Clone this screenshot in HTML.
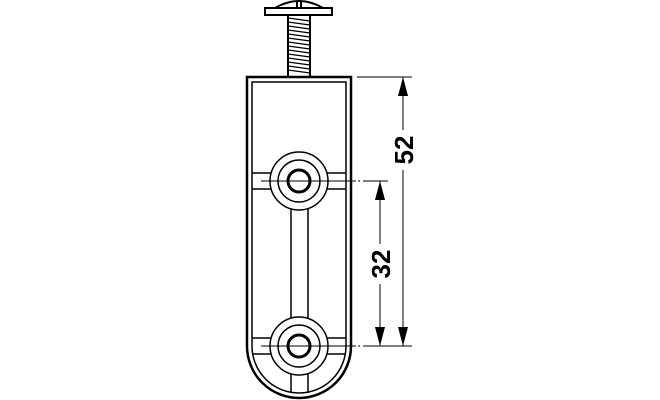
<!DOCTYPE html>
<html><head><meta charset="utf-8"><style>
html,body{margin:0;padding:0;background:#fff}
svg{display:block}
text{font-family:"Liberation Sans",sans-serif;font-weight:bold;font-size:26px}
</style></head><body>
<svg width="660" height="400" viewBox="0 0 660 400" xmlns="http://www.w3.org/2000/svg">
<g fill="none" stroke="#000" stroke-width="2">
<!-- screw -->
<path d="M275 8 Q299 -6 323 8" />
<line x1="297" y1="1" x2="297" y2="8"/><line x1="301" y1="1" x2="301" y2="8"/>
<rect x="265" y="8" width="67" height="7" fill="#fff"/>
<line x1="288" y1="15" x2="288" y2="77"/><line x1="310" y1="15" x2="310" y2="77"/>
<g stroke-width="1.3">
<path d="M288 18 L310 21 M288 22 L310 25 M288 26 L310 29 M288 30 L310 33 M288 34 L310 37 M288 38 L310 41 M288 42 L310 45 M288 46 L310 49 M288 50 L310 53 M288 54 L310 57 M288 58 L310 61 M288 62 L310 65 M288 66 L310 69 M288 70 L310 73"/>
</g>
<!-- body outer -->
<path d="M247 346 L247 77 L351 77 L351 346 A52 52 0 0 1 247 346" stroke-width="2.5"/>
<path d="M252 346 L252 82 L346 82 L346 346 A47 47 0 0 1 252 346" stroke-width="1.5"/>
<!-- central bar -->
<line x1="291" y1="205" x2="291" y2="323" stroke-width="1.5"/>
<line x1="308" y1="205" x2="308" y2="323" stroke-width="1.5"/>
<line x1="291" y1="370" x2="291" y2="393" stroke-width="1.5"/>
<line x1="308" y1="370" x2="308" y2="393" stroke-width="1.5"/>
<!-- bands -->
<g stroke-width="1.5">
<line x1="252" y1="173" x2="271" y2="173"/><line x1="252" y1="189" x2="271" y2="189"/>
<line x1="327" y1="173" x2="346" y2="173"/><line x1="327" y1="189" x2="346" y2="189"/>
<line x1="252" y1="338" x2="271" y2="338"/><line x1="252" y1="354" x2="271" y2="354"/>
<line x1="327" y1="338" x2="346" y2="338"/><line x1="327" y1="354" x2="346" y2="354"/>
</g>
<!-- holes -->
<g stroke-width="1.5">
<circle cx="299" cy="181" r="29" fill="#fff"/><circle cx="299" cy="181" r="21"/>
<circle cx="299" cy="346" r="29" fill="#fff"/><circle cx="299" cy="346" r="21"/>
</g>
<circle cx="299" cy="181" r="11" stroke-width="3"/>
<circle cx="299" cy="346" r="11" stroke-width="3"/>
<!-- center lines -->
<g stroke-width="1">
<line x1="261" y1="181" x2="356" y2="181"/><line x1="358" y1="181" x2="360" y2="181"/><line x1="363" y1="181" x2="388" y2="181"/>
<line x1="261" y1="346" x2="356" y2="346"/><line x1="358" y1="346" x2="360" y2="346"/><line x1="363" y1="346" x2="412" y2="346"/>
<line x1="357" y1="77" x2="412" y2="77"/>
<line x1="403" y1="77" x2="403" y2="346"/>
<line x1="380" y1="181" x2="380" y2="346"/>
</g>
</g>
<g fill="#000">
<path d="M403 77 L398 96 L408 96 Z"/><path d="M403 346 L398 327 L408 327 Z"/>
<path d="M380 181 L375 200 L385 200 Z"/><path d="M380 346 L375 327 L385 327 Z"/>
</g>
<rect x="392" y="130" width="22" height="40" fill="#fff"/>
<rect x="369" y="244" width="22" height="40" fill="#fff"/>
<text transform="translate(413,150) rotate(-90)" text-anchor="middle">52</text>
<text transform="translate(390,264) rotate(-90)" text-anchor="middle">32</text>
</svg>
</body></html>
